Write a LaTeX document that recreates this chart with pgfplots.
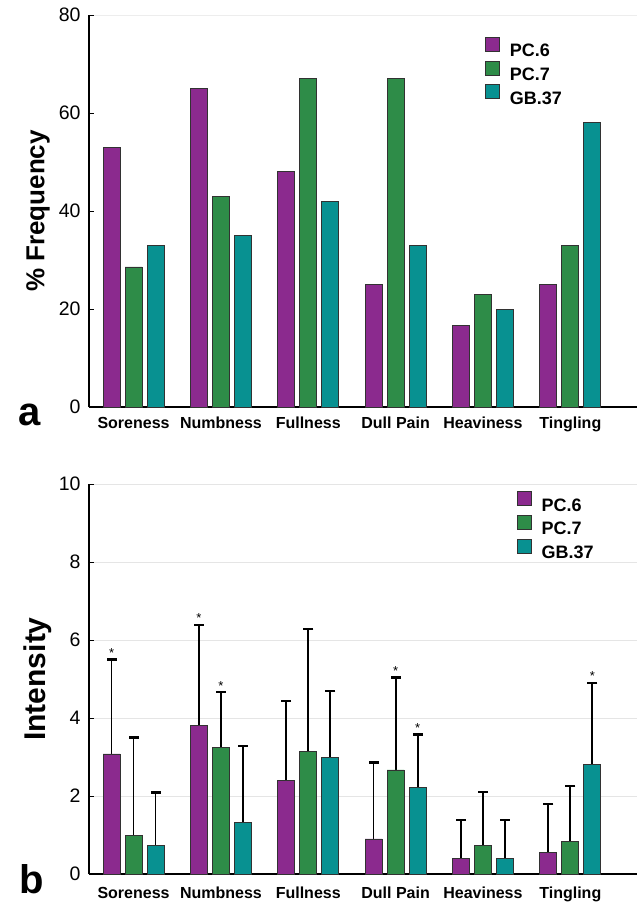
\documentclass[border=0pt]{standalone}
\usepackage{pgfplots}
\pgfplotsset{compat=1.18}
\usepackage{fontspec}
\setmainfont{Liberation Sans}
\definecolor{pcsix}{RGB}{139,42,142}
\definecolor{pcseven}{RGB}{46,140,72}
\definecolor{gbtt}{RGB}{8,145,145}
\definecolor{edge}{RGB}{50,50,50}

\pgfplotsset{
  mybase/.style={
    scale only axis, width=547.7pt, xmin=-0.51, xmax=5.76, ymin=0,
    axis x line*=bottom, axis y line*=left,
    axis line style={-, line width=2.2pt, black},
    xtick={0,1,2,3,4,5},
    xticklabels={Soreness,Numbness,Fullness,Dull Pain,Heaviness,Tingling},
    x tick style={draw=none},
    major tick length=5pt, tick align=inside,
    y tick style={black, line width=1pt},
    /pgf/number format/assume math mode=true,
    yticklabel style={font=\fontsize{19.5}{21}\selectfont, xshift=-5pt},
    xticklabel style={font=\bfseries\fontsize{16}{18}\selectfont, anchor=base},
    legend style={draw=none, fill=none, anchor=north west, inner sep=0pt,
      font=\bfseries\fontsize{18}{20}\selectfont,
      nodes={inner sep=0pt, text height=13pt, text depth=2pt},
      row sep=2pt,
      /tikz/every odd column/.append style={column sep=10pt}},
    legend cell align=left,
    clip=false,
  },
  mybar/.style={ybar, bar width=0.195, bar shift=0pt, draw=edge, line width=0.7pt},
  % upper error whisker: line from the axis to mean+SD (lower part hidden by the bar) with a cap
  mywhisk/.style={ycomb, black, line width=1.8pt, mark=-, mark size=5pt,
    mark options={line width=2.4pt, black}, forget plot},
}

\begin{document}
\begin{tikzpicture}
\useasboundingbox (0pt,0pt) rectangle (642pt,-906pt);

% ---------- panel a ----------
\begin{axis}[mybase, at={(89pt,-407pt)}, anchor=south west, height=392pt,
  ymax=80, ytick={0,20,40,60,80},
  extra y ticks={80}, extra y tick labels={},
  extra y tick style={grid=major, major grid style={black!7, line width=1pt}},
  xticklabel style={yshift=-21pt},
  ylabel={\% Frequency},
  ylabel style={font=\bfseries\fontsize{26}{30}\selectfont, at={(axis description cs:-0.093,0.5)}, anchor=center},
  legend style={at={(axis description cs:0.723,0.945)}},
]
\addlegendimage{legend image code/.code={\draw[fill=pcsix, draw=edge, line width=0.6pt] (0pt,0pt) rectangle (14pt,14pt);}}
\addlegendimage{legend image code/.code={\draw[fill=pcseven, draw=edge, line width=0.6pt] (0pt,0pt) rectangle (14pt,14pt);}}
\addlegendimage{legend image code/.code={\draw[fill=gbtt, draw=edge, line width=0.6pt] (0pt,0pt) rectangle (14pt,14pt);}}
\legend{PC.6, PC.7, GB.37}
% x = category index + offset (-0.252 PC.6, 0 PC.7, +0.252 GB.37)
\addplot[mybar, fill=pcsix] coordinates {(-0.252,53) (0.748,65) (1.748,48) (2.748,25) (3.748,16.7) (4.748,25)};
\addplot[mybar, fill=pcseven] coordinates {(0,28.6) (1,43) (2,67) (3,67) (4,23) (5,33)};
\addplot[mybar, fill=gbtt] coordinates {(0.252,33) (1.252,35) (2.252,42) (3.252,33) (4.252,20) (5.252,58)};
\node[font=\bfseries\fontsize{40}{40}\selectfont, anchor=base west] at (axis description cs:-0.135,-0.046) {a};
\end{axis}

% ---------- panel b ----------
\begin{axis}[mybase, at={(89pt,-874pt)}, anchor=south west, height=390pt,
  ymax=10, ytick={0,2,4,6,8,10},
  ymajorgrids, major grid style={black!10, line width=0.8pt},
  xticklabel style={yshift=-24pt},
  ylabel={Intensity},
  ylabel style={font=\bfseries\fontsize{30}{32}\selectfont, at={(axis description cs:-0.093,0.5)}, anchor=center},
  legend style={at={(axis description cs:0.781,0.982)}},
]
\addlegendimage{legend image code/.code={\draw[fill=pcsix, draw=edge, line width=0.6pt] (0pt,0pt) rectangle (14pt,14pt);}}
\addlegendimage{legend image code/.code={\draw[fill=pcseven, draw=edge, line width=0.6pt] (0pt,0pt) rectangle (14pt,14pt);}}
\addlegendimage{legend image code/.code={\draw[fill=gbtt, draw=edge, line width=0.6pt] (0pt,0pt) rectangle (14pt,14pt);}}
\legend{PC.6, PC.7, GB.37}
% upper ends of the error bars (mean + SD), drawn first so the bars cover their lower part
\addplot[mywhisk] coordinates {(-0.252,5.50) (0.748,6.39) (1.748,4.44) (2.748,2.86) (3.748,1.39) (4.748,1.80)};
\addplot[mywhisk] coordinates {(0,3.50) (1,4.66) (2,6.28) (3,5.04) (4,2.11) (5,2.25)};
\addplot[mywhisk] coordinates {(0.252,2.09) (1.252,3.29) (2.252,4.70) (3.252,3.58) (4.252,1.39) (5.252,4.90)};
% bars (means)
\addplot[mybar, fill=pcsix] coordinates {(-0.252,3.08) (0.748,3.82) (1.748,2.41) (2.748,0.90) (3.748,0.41) (4.748,0.56)};
\addplot[mybar, fill=pcseven] coordinates {(0,0.98) (1,3.24) (2,3.15) (3,2.67) (4,0.74) (5,0.83)};
\addplot[mybar, fill=gbtt] coordinates {(0.252,0.74) (1.252,1.32) (2.252,3.00) (3.252,2.21) (4.252,0.41) (5.252,2.80)};
% significance asterisks at the tops of the error bars
\addplot[only marks, mark=text, text mark={*}, text mark as node=true, forget plot,
  text mark style={font=\fontsize{13}{13}\selectfont, anchor=base, inner sep=0pt, yshift=2pt}]
  coordinates {(-0.252,5.50) (0.748,6.39) (1,4.66) (3,5.04) (3.252,3.58) (5.252,4.90)};
\node[font=\bfseries\fontsize{40}{40}\selectfont, anchor=base west] at (axis description cs:-0.133,-0.049) {b};
\end{axis}
\end{tikzpicture}
\end{document}
